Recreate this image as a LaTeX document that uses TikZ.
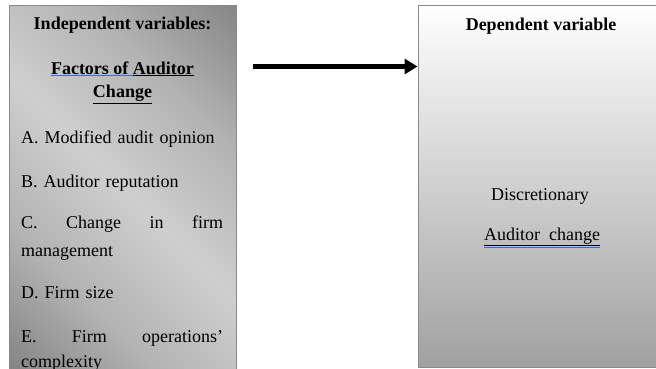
\documentclass[tikz,border=0pt]{standalone}
\usepackage{fontspec}
\setmainfont{Liberation Serif}
\usepackage{xcolor}
\usetikzlibrary{arrows.meta,positioning}
\definecolor{lineGray}{HTML}{8A8A8A}
\definecolor{spellBlue}{HTML}{3A6FD8}
\pgfdeclarehorizontalshading{panelshade}{100bp}{color(0bp)=(black!64); color(32bp)=(black!30); color(50bp)=(black!19); color(68bp)=(black!30); color(100bp)=(black!62)}

\begin{document}
\begin{tikzpicture}[
  x=1pt, y=1pt,
  font=\fontsize{18}{22}\selectfont,
  panel/.style={draw=lineGray, line width=1pt, inner sep=0pt},
  indpanel/.style={panel, shade, shading=panelshade, shading angle=45, minimum width=227pt, minimum height=367pt},
  deppanel/.style={panel, top color=white, middle color=black!10, bottom color=black!37, minimum width=246pt, minimum height=362pt},
  head/.style={font=\fontsize{18}{22}\selectfont\bfseries, inner sep=0pt, anchor=base},
  item/.style={inner sep=0pt, text width=202pt, align=left, text height=12.5pt, text depth=3.5pt},
  plain/.style={inner sep=0pt, anchor=base},
  flow/.style={-{Triangle[length=13pt,width=15pt]}, line width=4.5pt},
]
\useasboundingbox (0,0) rectangle (656,-368);
\clip (0,0) rectangle (656,-368);

% the two panels
\node[indpanel] (indep) at (122.5,-188.5) {};
\node[deppanel] (dep) at (541,-186) {};

% left panel
\node[head] (indtitle) at (122.5,-29) {Independent variables:};
\node[head] (factors) at (122.5,-74) {{\color{spellBlue}\underline{\color{black}Factors\ of\ }}\underline{Auditor}};
\node[head] (change) at (122.5,-97.5) {\underline{Change}};

\node[item, anchor=base west] (itemA) at (21,-143) {A. Modified audit opinion};
\node[item, below=28pt of itemA] (itemB) {B. Auditor reputation};
\node[item, below=25pt of itemB] (itemC) {C.\hfill Change\hfill in\hfill firm};
\node[item, below=11pt of itemC] (itemCb) {management};
\node[item, below=26pt of itemCb] (itemD) {D. Firm size};
\node[item, below=27pt of itemD] (itemE) {E.\hfill Firm\hfill operations'};
\node[item, below=9pt of itemE] (itemEb) {complexity};

% right panel
\node[head] (deptitle) at (541,-30) {Dependent variable};
\node[plain] (discr) at (540,-200) {Discretionary};
\node[plain] (audch) at (542,-240) {{\color{spellBlue}\underline{\color{black}\underline{Auditor\ \ change}}}};

\draw[flow] ([xshift=16pt,yshift=-62pt]indep.north east) -- ([yshift=-62pt]dep.north west);
\end{tikzpicture}
\end{document}
